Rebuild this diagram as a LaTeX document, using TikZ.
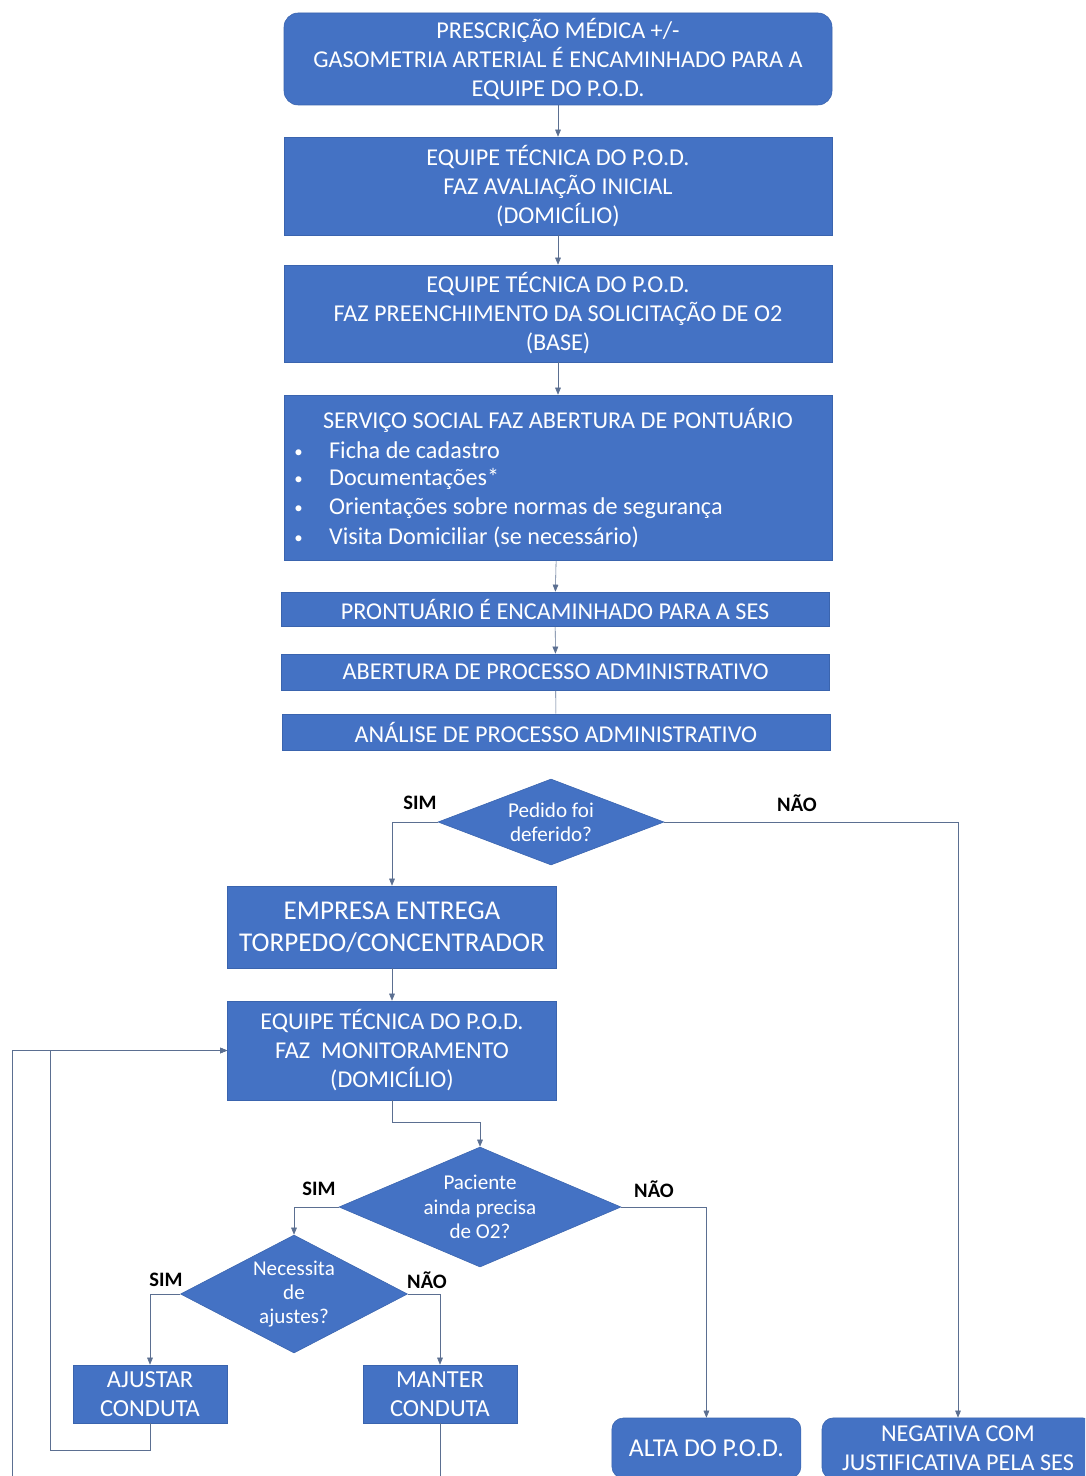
\documentclass[tikz,border=0pt]{standalone}
\usepackage{fontspec}
\setmainfont{Carlito}
\usetikzlibrary{shapes.geometric, arrows.meta}
\definecolor{azul}{HTML}{4472C4}
\definecolor{azulborda}{HTML}{3A64AE}
\definecolor{linha}{HTML}{5B6F91}
\newcommand{\marcador}{\makebox[24.8pt][l]{\raisebox{0.5pt}{\fontsize{12}{12}\selectfont\textbullet}}}

\begin{document}
\begin{tikzpicture}[
		caixa/.style={rectangle, fill=azul, draw=azulborda, text=white, align=center, inner sep=0pt, minimum width=13.7cm, font=\fontsize{17.2}{20.6}\selectfont},
		caixamenor/.style={caixa, minimum width=8.225cm},
		caixafim/.style={caixa, rounded corners=8pt},
		decisao/.style={diamond, fill=azul, draw=azulborda, text=white, align=center, inner sep=0pt, font=\fontsize{15}{17.4}\selectfont},
		texto/.style={text=white, inner sep=0pt, font=\fontsize{17.2}{20.6}\selectfont},
		rotulo/.style={font=\fontsize{14.6}{16}\selectfont\bfseries},
		seta/.style={-{Triangle[length=5pt, width=4pt]}, draw=linha},
		linha/.style={draw=linha}
		]
		
		\useasboundingbox (0,0) rectangle (27.125,-36.9);
		\clip (0,0) rectangle (27.125,-36.9);
		
		% ---- CAIXAS ----
		\node[caixa, rounded corners=10pt, minimum height=2.3cm] (prescricao) at (13.95, -1.475) {PRESCRIÇÃO MÉDICA +/-\\GASOMETRIA ARTERIAL É ENCAMINHADO PARA A\\EQUIPE DO P.O.D.};
		\node[caixa, minimum height=2.45cm] (avaliacao) at (13.95, -4.65) {EQUIPE TÉCNICA DO P.O.D.\\FAZ AVALIAÇÃO INICIAL\\(DOMICÍLIO)};
		\node[caixa, minimum height=2.425cm] (solicitacao) at (13.95, -7.8375) {EQUIPE TÉCNICA DO P.O.D.\\FAZ PREENCHIMENTO DA SOLICITAÇÃO DE O2\\(BASE)};
		\node[caixa, minimum height=4.125cm] (social) at (13.95, -11.9375) {};
		\node[texto] (socialtit) at (13.95, -10.5) {SERVIÇO SOCIAL FAZ ABERTURA DE PONTUÁRIO};
		\node[texto, anchor=west] (item1) at (7.35, -11.25) {\marcador Ficha de cadastro};
		\node[texto, anchor=west] (item2) at (7.35, -11.975) {\marcador Documentações*};
		\node[texto, anchor=west] (item3) at (7.35, -12.7) {\marcador Orientações sobre normas de segurança};
		\node[texto, anchor=west] (item4) at (7.35, -13.425) {\marcador Visita Domiciliar (se necessário)};
		\node[caixa, minimum height=0.85cm] (prontuario) at (13.875, -15.225) {PRONTUÁRIO É ENCAMINHADO PARA A SES};
		\node[caixa, minimum height=0.9cm] (abertura) at (13.89, -16.8) {ABERTURA DE PROCESSO ADMINISTRATIVO};
		\node[caixa, minimum height=0.9cm] (analise) at (13.9, -18.3) {ANÁLISE DE PROCESSO ADMINISTRATIVO};
		
		% ---- DECISÕES ----
		\node[decisao, minimum width=5.65cm, minimum height=2.15cm, aspect=2.6] (deferido) at (13.775, -20.55) {Pedido foi\\deferido?};
		\node[decisao, minimum width=7.05cm, minimum height=3cm, aspect=2.35] (precisa) at (12, -30.175) {Paciente\\ainda precisa\\de O2?};
		\node[decisao, minimum width=5.675cm, minimum height=2.95cm, aspect=1.92] (ajustes) at (7.35, -32.35) {Necessita\\de\\ajustes?};
		
		\node[caixamenor, minimum height=2.05cm, font=\fontsize{19.3}{22.8}\selectfont] (entrega) at (9.8, -23.175) {EMPRESA ENTREGA\\TORPEDO/CONCENTRADOR};
		\node[caixamenor, minimum height=2.475cm] (monitoramento) at (9.8, -26.2625) {EQUIPE TÉCNICA DO P.O.D.\\FAZ~ MONITORAMENTO\\(DOMICÍLIO)};
		\node[caixa, minimum width=3.85cm, minimum height=1.45cm, font=\fontsize{17.4}{20.6}\selectfont] (ajustar) at (3.75, -34.85) {AJUSTAR\\CONDUTA};
		\node[caixa, minimum width=3.85cm, minimum height=1.45cm, font=\fontsize{17.4}{20.6}\selectfont] (manter) at (11, -34.85) {MANTER\\CONDUTA};
		\node[caixafim, minimum width=4.725cm, minimum height=1.5cm, font=\fontsize{18.3}{20.6}\selectfont] (alta) at (17.66, -36.2) {ALTA DO P.O.D.};
		\node[caixafim, minimum width=6.8cm, minimum height=1.525cm] (negativa) at (23.95, -36.21) {NEGATIVA COM\\JUSTIFICATIVA PELA SES};
		
		% ---- ROTULOS ----
		\node[rotulo] (sim1) at (10.5, -20.075) {SIM};
		\node[rotulo] (nao1) at (19.925, -20.075) {NÃO};
		\node[rotulo] (sim2) at (7.975, -29.725) {SIM};
		\node[rotulo] (nao2) at (16.35, -29.725) {NÃO};
		\node[rotulo] (sim3) at (4.15, -32) {SIM};
		\node[rotulo] (nao3) at (10.675, -32) {NÃO};
		
		% ---- LIGACOES ----
		\coordinate (desvio) at (12, -28.05);
		\coordinate (retorno1) at (1.25, -36.25);
		\coordinate (retorno2) at (0.3, -37.5);
		
		\path[seta] (prescricao) -- (avaliacao);
		\path[seta] (avaliacao) -- (solicitacao);
		\path[seta] (solicitacao) -- (social);
		\path[seta] (social) -- (prontuario);
		\path[seta] (prontuario) -- (abertura);
		\path[linha] (abertura) -- (analise);
		
		\path[seta] (deferido.west) -| (entrega.north);
		\path[seta] (deferido.east) -| (negativa.north);
		\path[seta] (entrega) -- (monitoramento);
		\path[seta] (monitoramento.south) |- (desvio) -- (precisa.north);
		\path[seta] (precisa.west) -| (ajustes.north);
		\path[seta] (precisa.east) -| (alta.north);
		\path[seta] (ajustes.west) -| (ajustar.north);
		\path[seta] (ajustes.east) -| (manter.north);
		\path[seta] (ajustar.south) |- (retorno1) |- (monitoramento.west);
		\path[seta] (manter.south) |- (retorno2) |- (monitoramento.west);
		
	\end{tikzpicture}
\end{document}
